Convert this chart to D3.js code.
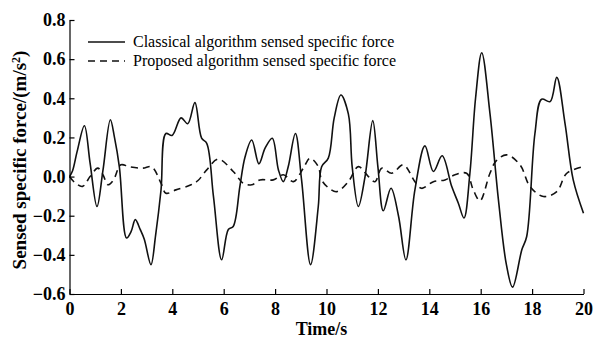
<!DOCTYPE html>
<html>
<head>
    <meta charset="utf-8">
    <title>Sensed specific force</title>
    <script src="https://cdnjs.cloudflare.com/ajax/libs/d3/7.8.5/d3.min.js"></script>
    <style>
        body { margin: 0; background: #fff; }
        text { font-family: "Liberation Serif", "Times New Roman", serif; fill: #000; }
        .axis path, .axis line { stroke: #000; stroke-width: 1.2; }
        .axis text { font-size: 18px; font-weight: bold; }
    </style>
</head>
<body>
<script type="text/javascript">
    var width = 595,
        height = 338,
        mLeft = 69.5,
        mRight = 583.5,
        mTop = 20,
        mBottom = 294;

    // time (s) / value (m/s^2)
    var classicalT = [0, 0.12, 0.3, 0.58, 0.8, 1.07, 1.3, 1.59, 1.75, 1.94, 2.22, 2.4, 2.56, 2.75, 2.91, 3.17, 3.35, 3.56, 3.75, 3.99, 4.34, 4.6, 4.88, 5.14, 5.34, 5.6, 5.92, 6.18, 6.37, 6.63, 6.83, 7.09, 7.37, 7.61, 7.89, 8.13, 8.32, 8.51, 8.79, 9.03, 9.38, 9.68, 9.81, 10.07, 10.3, 10.56, 10.85, 11.0, 11.24, 11.5, 11.8, 12.0, 12.21, 12.51, 12.8, 13.09, 13.44, 13.83, 14.16, 14.5, 14.87, 15.13, 15.35, 15.58, 15.8, 16.04, 16.36, 16.69, 17.0, 17.24, 17.6, 17.79, 18.11, 18.37, 18.7, 18.96, 19.28, 19.6, 20];
    var classical = [0, 0.03, 0.13, 0.26, 0.07, -0.153, 0.03, 0.29, 0.2, 0.05, -0.314, -0.28, -0.22, -0.27, -0.32, -0.45, -0.3, -0.07, 0.22, 0.21, 0.3, 0.27, 0.378, 0.196, 0.17, -0.1, -0.425, -0.27, -0.255, -0.05, 0.1, 0.187, 0.065, 0.145, 0.196, 0.034, -0.026, 0.05, 0.22, -0.017, -0.45, -0.153, 0.05, 0.094, 0.3, 0.417, 0.32, 0.05, -0.153, 0.0, 0.286, 0.05, -0.175, -0.06, -0.2, -0.425, -0.068, 0.157, 0.026, 0.106, -0.05, -0.136, -0.212, 0.017, 0.4, 0.633, 0.323, -0.119, -0.45, -0.565, -0.374, -0.306, 0.22, 0.395, 0.383, 0.507, 0.272, -0.017, -0.187];

    var proposedT = [0, 0.2, 0.51, 0.8, 1.1, 1.3, 1.49, 1.7, 2.0, 2.33, 2.85, 3.2, 3.56, 3.75, 4.14, 4.73, 5.0, 5.34, 5.79, 6.37, 6.76, 7.09, 7.41, 7.93, 8.32, 8.71, 9.1, 9.36, 9.68, 9.81, 10.1, 10.4, 10.85, 11.24, 11.63, 11.89, 12.15, 12.54, 12.99, 13.44, 13.7, 14.16, 14.61, 15.0, 15.45, 15.71, 15.97, 16.36, 16.6, 17.01, 17.53, 17.92, 18.44, 18.96, 19.35, 20];
    var proposed = [0, -0.03, -0.05, 0.0, 0.043, 0.01, -0.042, -0.02, 0.06, 0.05, 0.043, 0.05, -0.034, -0.085, -0.068, -0.042, -0.02, 0.034, 0.089, 0.026, -0.034, -0.042, -0.017, -0.017, 0.009, -0.026, 0.043, 0.094, 0.051, -0.017, -0.06, -0.077, -0.026, 0.051, 0.0, -0.026, 0.043, 0.017, 0.06, -0.026, -0.06, -0.026, -0.017, 0.009, 0.017, -0.068, -0.124, 0.017, 0.08, 0.111, 0.06, -0.051, -0.102, -0.077, 0.017, 0.051];

    var xTicks = [0, 2, 4, 6, 8, 10, 12, 14, 16, 18, 20];
    var yTicks = [-0.6, -0.4, -0.2, 0.0, 0.2, 0.4, 0.6, 0.8];
    var legendLabels = ["Classical algorithm sensed specific force",
                        "Proposed algorithm sensed specific force"];

    var x = d3.scaleLinear().domain([0, 20]).range([mLeft, mRight]),
        y = d3.scaleLinear().domain([-0.6, 0.8]).range([mBottom, mTop]);

    var svg = d3.select("body").append("svg")
        .attr("width", width)
        .attr("height", height);

    var line = d3.line()
        .x(function(d){ return x(d[0]); })
        .y(function(d){ return y(d[1]); })
        .curve(d3.curveCatmullRom.alpha(0.5));

    var series = [
        {pts: d3.zip(classicalT, classical), dash: null},
        {pts: d3.zip(proposedT, proposed), dash: "7,5"}
    ];

    svg.selectAll("path.line")
        .data(series)
      .enter().append("path")
        .attr("class", "line")
        .attr("d", function(d){ return line(d.pts); })
        .attr("fill", "none")
        .attr("stroke", "#111")
        .attr("stroke-width", 1.6)
        .attr("stroke-dasharray", function(d){ return d.dash; });

    // axes, ticks point inward
    var xAxis = d3.axisBottom(x)
        .tickValues(xTicks)
        .tickFormat(d3.format("d"))
        .tickSizeInner(-5)
        .tickSizeOuter(0)
        .tickPadding(8);

    var yAxis = d3.axisLeft(y)
        .tickValues(yTicks)
        .tickFormat(d3.format(".1f"))
        .tickSizeInner(-5)
        .tickSizeOuter(0)
        .tickPadding(4);

    svg.append("g")
        .attr("class", "axis")
        .attr("transform", "translate(0," + mBottom + ")")
        .call(xAxis);

    svg.append("g")
        .attr("class", "axis")
        .attr("transform", "translate(" + mLeft + ",0)")
        .call(yAxis);

    // legend
    var legend = svg.append("g").attr("transform", "translate(88,42)");
    legendLabels.forEach(function(label, i){
        legend.append("line")
            .attr("x1", 0).attr("x2", 37)
            .attr("y1", i * 19).attr("y2", i * 19)
            .attr("stroke", "#111")
            .attr("stroke-width", 1.4)
            .attr("stroke-dasharray", series[i].dash);
        legend.append("text")
            .attr("x", 45)
            .attr("y", i * 19 + 5)
            .style("font-size", "16px")
            .text(label);
    });

    // axis titles
    svg.append("text")
        .attr("x", (mLeft + mRight) / 2 - 5)
        .attr("y", 335)
        .attr("text-anchor", "middle")
        .style("font-size", "18px")
        .style("font-weight", "bold")
        .text("Time/s");

    var yTitle = svg.append("text")
        .attr("transform", "translate(26,160) rotate(-90)")
        .attr("text-anchor", "middle")
        .style("font-size", "19px")
        .style("font-weight", "bold");
    yTitle.append("tspan").text("Sensed specific force/(m/s");
    yTitle.append("tspan").attr("dy", -6).style("font-size", "12px").text("2");
    yTitle.append("tspan").attr("dy", 6).text(")");
</script>
</body>
</html>
